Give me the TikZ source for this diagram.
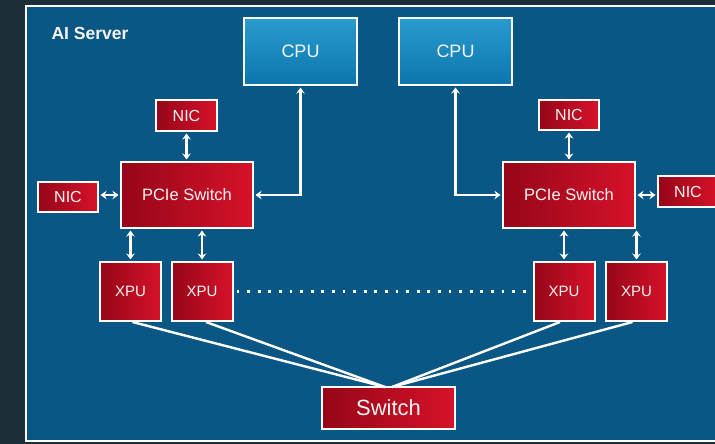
\documentclass[tikz,border=0pt]{standalone}
\usepackage{fontspec}
\setmainfont{Liberation Sans}
\usetikzlibrary{arrows.meta,calc}
\definecolor{bgout}{RGB}{28,46,56}
\definecolor{panelblue}{RGB}{10,86,132}
\definecolor{cpuA}{RGB}{40,155,208}
\definecolor{cpuB}{RGB}{12,118,172}
\definecolor{redA}{RGB}{150,6,24}
\definecolor{redB}{RGB}{214,18,42}
\definecolor{txt}{RGB}{245,245,245}
\tikzset{
  box/.style={draw=white, line width=2pt, inner sep=0pt, text=txt},
  redbox/.style={box, left color=redA, right color=redB},
  cpubox/.style={box, top color=cpuA, bottom color=cpuB, minimum width=113pt, minimum height=67pt, font=\fontsize{18}{20}\selectfont},
  nicbox/.style={redbox, minimum width=60pt, minimum height=30pt, font=\fontsize{16}{18}\selectfont},
  pciebox/.style={redbox, minimum width=132pt, minimum height=66pt, font=\fontsize{16.5}{18}\selectfont},
  xpubox/.style={redbox, minimum width=61pt, minimum height=59pt, font=\fontsize{15}{17}\selectfont},
  swbox/.style={redbox, minimum width=133pt, minimum height=42pt, font=\fontsize{22}{24}\selectfont},
  biarrow/.style={draw=white, line width=2.4pt, {Stealth[length=6pt,width=8.5pt]}-{Stealth[length=6pt,width=8.5pt]}, shorten <=1.5pt, shorten >=1.5pt},
  wire/.style={draw=white, line width=2.4pt},
  dotline/.style={draw=white, line width=2.8pt, dash pattern=on 2.8pt off 7.8pt},
}
\begin{document}
\begin{tikzpicture}[x=1pt,y=-1pt]
\useasboundingbox (0,0) rectangle (715,444);
\clip (0,0) rectangle (715,444);
\fill[bgout] (0,0) rectangle (715,444);
\draw[fill=panelblue, draw=white, line width=2pt] (26,6) rectangle (722,441);
\node[anchor=west, text=txt, font=\bfseries\fontsize{17.5}{20}\selectfont] (title) at (48,33) {AI Server};

\node[cpubox] (cpuL) at (300.5,51.5) {CPU};
\node[cpubox] (cpuR) at (455.5,51.5) {CPU};

\node[nicbox, minimum width=61pt, minimum height=31pt] (nicTL) at (186.5,115.5) {NIC};
\node[nicbox] (nicTR) at (569,115) {NIC};
\node[nicbox] (nicL) at (68,197) {NIC};
\node[nicbox, minimum height=31pt] (nicR) at (688,191.5) {NIC};

\node[pciebox] (pcieL) at (187,195) {PCIe Switch};
\node[pciebox] (pcieR) at (569,195) {PCIe Switch};

\node[xpubox] (xpu1) at (130.5,291.5) {XPU};
\node[xpubox] (xpu2) at (202,291.5) {XPU};
\node[xpubox] (xpu3) at (564,291.5) {XPU};
\node[xpubox] (xpu4) at (636.5,291.5) {XPU};

\node[swbox] (sw) at (388.5,408) {Switch};

% NIC links
\draw[biarrow] (nicTL.south) -- (nicTL.south |- pcieL.north);
\draw[biarrow] (nicTR.south) -- (nicTR.south |- pcieR.north);
\draw[biarrow] (nicL.east |- pcieL.west) -- (pcieL.west);
\draw[biarrow] (pcieR.east) -- (pcieR.east -| nicR.west);

% CPU links
\draw[biarrow] (pcieL.east) -| (cpuL.south);
\draw[biarrow] (pcieR.west) -| (cpuR.south);

% XPU links
\draw[biarrow] (xpu1.north) -- (xpu1.north |- pcieL.south);
\draw[biarrow] (xpu2.north) -- (xpu2.north |- pcieL.south);
\draw[biarrow] (xpu3.north) -- (xpu3.north |- pcieR.south);
\draw[biarrow] (xpu4.north) -- (xpu4.north |- pcieR.south);

% dotted continuation
\draw[dotline] ($(xpu2.east)+(3,0)$) -- (xpu3.west);

% switch fan-in
\coordinate (swinL) at (385,387);
\coordinate (swinR) at (392,387);
\draw[wire] ($(xpu1.south)+(2,0)$) -- (swinL);
\draw[wire] ($(xpu2.south)+(4,0)$) -- (swinL);
\draw[wire] ($(xpu3.south)+(-4,0)$) -- (swinR);
\draw[wire] ($(xpu4.south)+(-4,0)$) -- (swinR);
\end{tikzpicture}
\end{document}
